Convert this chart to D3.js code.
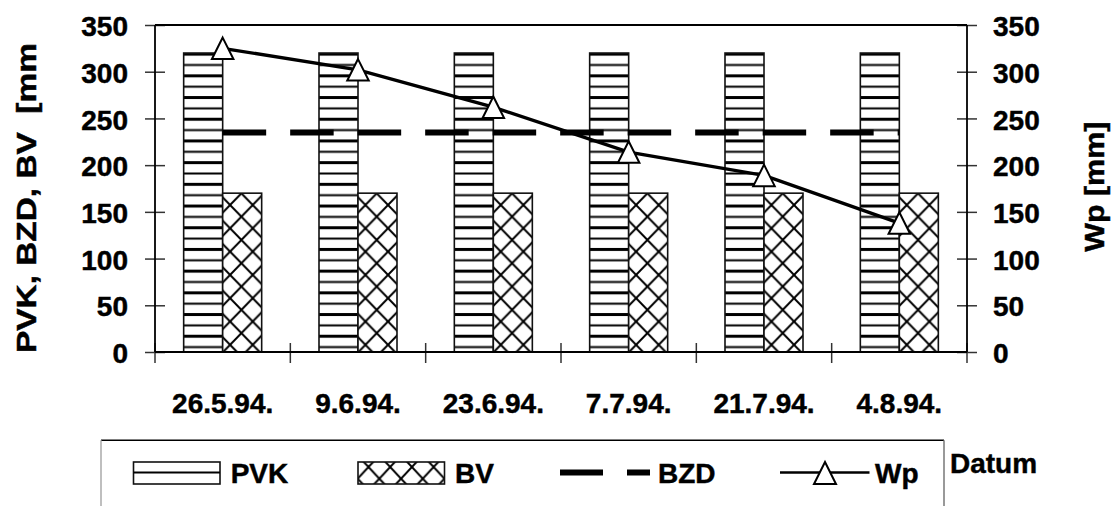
<!DOCTYPE html>
<html>
<head>
<meta charset="utf-8">
<script src="https://cdn.jsdelivr.net/npm/d3@7"></script>
<style>
  html, body { margin: 0; padding: 0; background: #fff; }
  svg { display: block; }
  text { font-family: "Liberation Sans", Arial, sans-serif; font-weight: bold; fill: #000; stroke: #000; stroke-width: 0.45px; }
</style>
</head>
<body>
<svg id="chart" width="1114" height="506"></svg>
<script>
// Measurement dates (category axis)
const dates = ["26.5.94.", "9.6.94.", "23.6.94.", "7.7.94.", "21.7.94.", "4.8.94."];
// Series values in mm
const pvk = [320, 320, 320, 320, 320, 320];
const bv  = [170, 170, 170, 170, 170, 170];
const bzd = [235, 235, 235, 235, 235, 235];
const wp  = [325, 302, 262, 214, 189, 138];
// Value axis ticks (both axes share 0–350)
const yTicks = [0, 50, 100, 150, 200, 250, 300, 350];
const seriesNames = ["PVK", "BV"];

const svg = d3.select("#chart");
const FONT = 28;

const plot = { left: 155, right: 967, top: 25, bottom: 352 };

const x0 = d3.scaleBand().domain(dates).range([plot.left, plot.right]).paddingInner(0).paddingOuter(0);
const x1 = d3.scaleBand().domain(seriesNames).range([0, x0.bandwidth()]).paddingInner(0).paddingOuter(0.735);
const y = d3.scaleLinear().domain([0, 350]).range([plot.bottom, plot.top]);
const yR = d3.scaleLinear().domain([0, 350]).range([plot.bottom, plot.top]);
const cx = d => x0(d) + x0.bandwidth() / 2;

// ---- fill patterns ----
const defs = svg.append("defs");

// horizontal stripes for PVK
const stripeH = 21.7;
const stripes = defs.append("pattern")
  .attr("id", "stripes").attr("patternUnits", "userSpaceOnUse")
  .attr("x", 0).attr("y", 63.5).attr("width", 10).attr("height", stripeH);
stripes.append("rect").attr("width", 10).attr("height", stripeH).attr("fill", "#fff");
stripes.append("line").attr("x1", 0).attr("x2", 10).attr("y1", 1.5).attr("y2", 1.5)
  .attr("stroke", "#000").attr("stroke-width", 2);
stripes.append("line").attr("x1", 0).attr("x2", 10).attr("y1", 12.35).attr("y2", 12.35)
  .attr("stroke", "#000").attr("stroke-width", 3);

// diamond lattice for BV
function diamondPattern(id, px, py, w, h) {
  const p = defs.append("pattern")
    .attr("id", id).attr("patternUnits", "userSpaceOnUse")
    .attr("x", px).attr("y", py).attr("width", w).attr("height", h);
  p.append("rect").attr("width", w).attr("height", h).attr("fill", "#fff");
  p.append("path")
    .attr("d", `M${-w / 2},${-h / 2}L${w * 1.5},${h * 1.5}M${w * 1.5},${-h / 2}L${-w / 2},${h * 1.5}`)
    .attr("stroke", "#000").attr("stroke-width", 2).attr("fill", "none");
}
diamondPattern("diamonds", 233.3, 205 - 23.3 * 8, 22.6, 23.3);
diamondPattern("diamondsLegend", 368.5, 467 - 23.3, 21.7, 23.3);

// ---- bars ----
const groups = svg.append("g").selectAll("g")
  .data(dates).join("g")
  .attr("transform", d => `translate(${x0(d)},0)`);

groups.append("rect")
  .attr("x", x1("PVK")).attr("width", x1.bandwidth())
  .attr("y", (d, i) => y(pvk[i])).attr("height", (d, i) => y(0) - y(pvk[i]))
  .attr("fill", "url(#stripes)").attr("stroke", "#111").attr("stroke-width", 1.6);

groups.append("rect")
  .attr("x", x1("BV")).attr("width", x1.bandwidth())
  .attr("y", (d, i) => y(bv[i])).attr("height", (d, i) => y(0) - y(bv[i]))
  .attr("fill", "url(#diamonds)").attr("stroke", "#111").attr("stroke-width", 1.6);

// ---- axes ----
const axisStyle = g => {
  g.attr("font-family", null).attr("font-size", null);
  g.selectAll("text").attr("font-size", FONT).attr("font-weight", "bold")
    .attr("font-family", "'Liberation Sans', Arial, sans-serif").attr("fill", "#000");
  g.selectAll(".tick line").attr("stroke", "#333").attr("stroke-width", 1.5);
  g.select(".domain").remove();
};

// left value axis
svg.append("g")
  .attr("transform", `translate(${plot.left},0)`)
  .call(d3.axisLeft(y).tickValues(yTicks).tickSize(10).tickPadding(17).tickFormat(d3.format("d")))
  .call(axisStyle)
  .call(g => g.selectAll(".tick line").attr("x1", 10))
  .call(g => g.selectAll(".tick text").attr("dy", "0.38em"));

// right value axis (Wp)
svg.append("g")
  .attr("transform", `translate(${plot.right},0)`)
  .call(d3.axisRight(yR).tickValues(yTicks).tickSize(10).tickPadding(16).tickFormat(d3.format("d")))
  .call(axisStyle)
  .call(g => g.selectAll(".tick line").attr("x1", -10))
  .call(g => g.selectAll(".tick text").attr("dy", "0.38em"));

// category labels
svg.append("g")
  .attr("transform", `translate(0,${plot.bottom})`)
  .call(d3.axisBottom(x0).tickSize(0).tickPadding(41))
  .call(axisStyle);

// category boundary ticks
const bounds = dates.map(d => x0(d)).concat([plot.right]);
svg.append("g").selectAll("line")
  .data(bounds).join("line")
  .attr("x1", d => d).attr("x2", d => d)
  .attr("y1", plot.bottom - 9).attr("y2", plot.bottom + 11)
  .attr("stroke", "#333").attr("stroke-width", 1.5);

// plot frame: axis lines and top border
const frame = svg.append("g").attr("stroke", "#000").attr("stroke-width", 1.8).attr("fill", "none");
frame.append("line").attr("x1", plot.left).attr("x2", plot.left).attr("y1", plot.top).attr("y2", plot.bottom);
frame.append("line").attr("x1", plot.right).attr("x2", plot.right).attr("y1", plot.top).attr("y2", plot.bottom);
frame.append("line").attr("x1", plot.left).attr("x2", plot.right).attr("y1", plot.top).attr("y2", plot.top);
frame.append("line").attr("x1", plot.left).attr("x2", plot.right).attr("y1", plot.bottom).attr("y2", plot.bottom);

// ---- BZD dashed line ----
const line = d3.line().x(d => cx(d[0])).y(d => y(d[1]));
svg.append("path")
  .datum(dates.map((d, i) => [d, bzd[i]]))
  .attr("d", line)
  .attr("fill", "none").attr("stroke", "#000").attr("stroke-width", 6)
  .attr("stroke-dasharray", "43.5,24");

// ---- Wp line with triangle markers ----
const lineR = d3.line().x(d => cx(d[0])).y(d => yR(d[1]));
svg.append("path")
  .datum(dates.map((d, i) => [d, wp[i]]))
  .attr("d", lineR)
  .attr("fill", "none").attr("stroke", "#000").attr("stroke-width", 3.4);

const tri = (px, py, s) => `M${px},${py - s / 2}L${px + s / 2},${py + s / 2}L${px - s / 2},${py + s / 2}Z`;
svg.append("g").selectAll("path")
  .data(dates).join("path")
  .attr("d", (d, i) => tri(cx(d), yR(wp[i]), 21.5))
  .attr("fill", "#fff").attr("stroke", "#000").attr("stroke-width", 2);

// ---- axis titles ----
svg.append("clipPath").attr("id", "titleClip")
  .append("rect").attr("x", 0).attr("y", 43).attr("width", 80).attr("height", 400);
svg.append("g").attr("clip-path", "url(#titleClip)")
  .append("text")
  .attr("transform", "translate(35.5,353) rotate(-90)")
  .attr("font-size", FONT)
  .attr("textLength", 321).attr("lengthAdjust", "spacingAndGlyphs")
  .style("white-space", "pre")
  .text("PVK, BZD, BV  [mm]");

svg.append("text")
  .attr("transform", "translate(1103.5,251.7) rotate(-90)")
  .attr("font-size", FONT)
  .attr("textLength", 130).attr("lengthAdjust", "spacingAndGlyphs")
  .text("Wp [mm]");

svg.append("text")
  .attr("x", 950).attr("y", 473.3)
  .attr("font-size", FONT)
  .text("Datum");

// ---- legend ----
const legend = svg.append("g");
legend.append("line").attr("x1", 101).attr("x2", 944).attr("y1", 440.3).attr("y2", 440.3)
  .attr("stroke", "#000").attr("stroke-width", 1.5);
legend.append("line").attr("x1", 101).attr("x2", 101).attr("y1", 440.3).attr("y2", 506)
  .attr("stroke", "#aaa").attr("stroke-width", 1.5);
legend.append("line").attr("x1", 944).attr("x2", 944).attr("y1", 440.3).attr("y2", 506)
  .attr("stroke", "#777").attr("stroke-width", 1.5);

const ly = 472.5;
// PVK swatch
legend.append("rect").attr("x", 133.5).attr("y", 462).attr("width", 86.5).attr("height", 22)
  .attr("fill", "#fff").attr("stroke", "#111").attr("stroke-width", 1.6);
legend.append("line").attr("x1", 133.5).attr("x2", 220).attr("y1", ly).attr("y2", ly)
  .attr("stroke", "#000").attr("stroke-width", 2.2);
legend.append("text").attr("x", 230.7).attr("y", 482.7).attr("font-size", FONT).text("PVK");

// BV swatch
legend.append("rect").attr("x", 358).attr("y", 462).attr("width", 86.5).attr("height", 22)
  .attr("fill", "url(#diamondsLegend)").attr("stroke", "#111").attr("stroke-width", 1.6);
legend.append("text").attr("x", 455).attr("y", 482.7).attr("font-size", FONT).text("BV");

// BZD sample
legend.append("line").attr("x1", 560).attr("x2", 650).attr("y1", ly).attr("y2", ly)
  .attr("stroke", "#000").attr("stroke-width", 6).attr("stroke-dasharray", "43,24");
legend.append("text").attr("x", 658).attr("y", 482.7).attr("font-size", FONT).text("BZD");

// Wp sample
legend.append("line").attr("x1", 780).attr("x2", 869.5).attr("y1", ly).attr("y2", ly)
  .attr("stroke", "#000").attr("stroke-width", 2.4);
legend.append("path").attr("d", tri(825, 473, 22))
  .attr("fill", "#fff").attr("stroke", "#000").attr("stroke-width", 2);
legend.append("text").attr("x", 875).attr("y", 482.7).attr("font-size", FONT).text("Wp");
</script>
</body>
</html>
